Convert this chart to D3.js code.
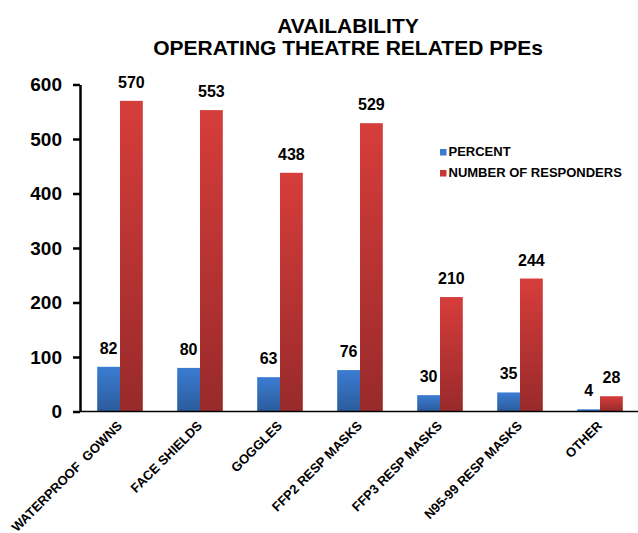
<!DOCTYPE html>
<html>
<head>
<meta charset="utf-8">
<script src="https://cdn.jsdelivr.net/npm/d3@7"></script>
<style>
  body { margin: 0; background: #fff; }
  text { font-family: "Liberation Sans", Arial, sans-serif; font-weight: bold; fill: #000; }
</style>
</head>
<body>
<div id="chart"></div>
<script>
var categories = ["WATERPROOF  GOWNS", "FACE SHIELDS", "GOGGLES", "FFP2 RESP MASKS",
                  "FFP3 RESP MASKS", "N95-99 RESP MASKS", "OTHER"];
var percent = [82, 80, 63, 76, 30, 35, 4];
var responders = [570, 553, 438, 529, 210, 244, 28];
var seriesNames = ["PERCENT", "NUMBER OF RESPONDERS"];
var yTicks = [0, 100, 200, 300, 400, 500, 600];

var width = 638, height = 533,
    margin = {top: 84.5, bottom: 122, left: 80, right: -2};

var svg = d3.select("#chart").append("svg")
    .attr("width", width)
    .attr("height", height);

// gradients, one per series
var defs = svg.append("defs");
var grads = [["gBlue", "#3b7cd2", "#2c5b9c"], ["gRed", "#d63d3b", "#982a2a"]];
grads.forEach(function(g) {
  var lg = defs.append("linearGradient").attr("id", g[0])
      .attr("x1", 0).attr("y1", 0).attr("x2", 0).attr("y2", 1);
  lg.append("stop").attr("offset", "0%").attr("stop-color", g[1]);
  lg.append("stop").attr("offset", "100%").attr("stop-color", g[2]);
});

var x = d3.scaleBand()
    .domain(categories)
    .range([margin.left, width - margin.right])
    .paddingInner(0.43)
    .paddingOuter(0.215);

var x1 = d3.scaleBand()
    .domain([0, 1])
    .range([0, x.bandwidth()]);

var y = d3.scaleLinear()
    .domain([0, 600])
    .range([height - margin.bottom + 0.5, margin.top]);

// title
var title = svg.append("text")
    .attr("text-anchor", "middle")
    .style("font-size", "21px");
title.append("tspan").attr("x", 348).attr("y", 33).text("AVAILABILITY");
title.append("tspan").attr("x", 348).attr("y", 55).text("OPERATING THEATRE RELATED PPEs");

// bars
var groups = svg.selectAll("g.group")
    .data(categories.map(function(c, i) { return {cat: c, vals: [percent[i], responders[i]]}; }))
    .enter().append("g")
    .attr("class", "group")
    .attr("transform", function(d) { return "translate(" + x(d.cat) + ",0)"; });

groups.selectAll("rect")
    .data(function(d) { return d.vals; })
    .enter().append("rect")
    .attr("x", function(d, i) { return x1(i); })
    .attr("width", x1.bandwidth())
    .attr("y", function(d) { return y(d); })
    .attr("height", function(d) { return y(0) - y(d); })
    .attr("fill", function(d, i) { return i == 0 ? "url(#gBlue)" : "url(#gRed)"; });

groups.selectAll("text.val")
    .data(function(d) { return d.vals; })
    .enter().append("text")
    .attr("class", "val")
    .attr("text-anchor", "middle")
    .style("font-size", "16px")
    .attr("x", function(d, i) { return x1(i) + x1.bandwidth() / 2; })
    .attr("y", function(d) { return y(d) - 13; })
    .text(function(d) { return d; });

// x axis line
svg.append("line")
    .attr("x1", margin.left).attr("x2", width)
    .attr("y1", y(0)).attr("y2", y(0))
    .attr("stroke", "#000").attr("stroke-width", 1.5);

// y axis
var yAxis = svg.append("g")
    .attr("transform", "translate(" + margin.left + ",0)")
    .call(d3.axisLeft(y).tickValues(yTicks).tickSize(7).tickPadding(11).tickSizeOuter(0));
yAxis.select(".domain").attr("stroke", "#000").attr("stroke-width", 2.5);
yAxis.selectAll(".tick line").attr("stroke", "#000").attr("stroke-width", 2.5);
yAxis.selectAll(".tick text")
    .style("font-size", "19px")
    .style("font-family", "'Liberation Sans', Arial, sans-serif")
    .style("font-weight", "bold")
    .attr("fill", "#000");

// category labels
svg.selectAll("text.cat")
    .data(categories)
    .enter().append("text")
    .attr("class", "cat")
    .attr("text-anchor", "end")
    .style("font-size", "13px")
    .style("white-space", "pre")
    .attr("transform", function(d) {
      return "translate(" + (x(d) + x.bandwidth() / 2 + 3) + "," + (y(0) + 15) + ") rotate(-45)";
    })
    .text(function(d) { return d; });

// legend
var legend = svg.selectAll("g.legend")
    .data(seriesNames)
    .enter().append("g")
    .attr("class", "legend")
    .attr("transform", function(d, i) { return "translate(440," + (156 + i * 21) + ")"; });
legend.append("rect")
    .attr("x", 0).attr("y", -7).attr("width", 6.5).attr("height", 6.5)
    .attr("fill", function(d, i) { return i == 0 ? "#3b7cd2" : "#c83736"; });
legend.append("text")
    .attr("x", 8.5).attr("y", 0)
    .style("font-size", "13px")
    .text(function(d) { return d; });
</script>
</body>
</html>
